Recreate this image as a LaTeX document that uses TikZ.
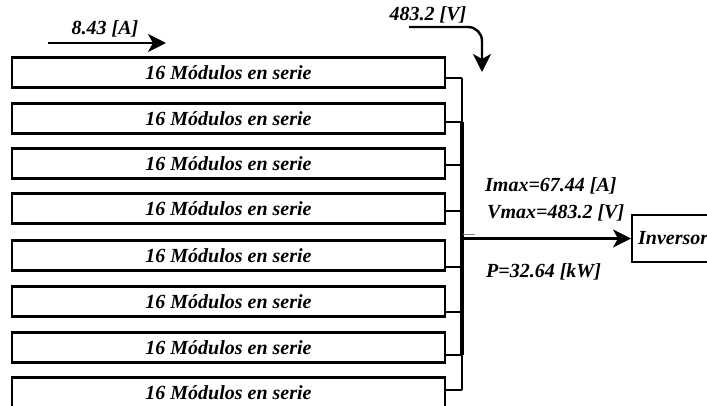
\documentclass[tikz,border=0pt]{standalone}
\usepackage{fontspec}
\setmainfont{Liberation Serif}
\usetikzlibrary{arrows.meta}
\begin{document}
\begin{tikzpicture}[x=1pt,y=-1pt,
  lbl/.style={font=\fontsize{20}{24}\selectfont\bfseries\itshape, inner sep=0pt},
  modbox/.style={draw, line width=2.6pt, minimum width=433pt, minimum height=30pt, inner sep=0pt,
    font=\fontsize{20}{24}\selectfont\bfseries\itshape},
  stub/.style={line width=2pt},
  arr/.style={line width=2.4pt, -{Stealth[length=18pt,width=18pt,inset=5pt]}}]
\useasboundingbox (0,0) rectangle (707,406);
% module boxes
\foreach \i/\y in {1/72.5,2/118.5,3/163.5,4/208.5,5/255.5,6/301.5,7/347.5,8/392.5}{
  \node[modbox] (m\i) at (228.5,\y) {16 Módulos en serie};
}
% bus coordinates
\foreach \i/\y in {1/78,2/122,3/165,4/211,5/267,6/312,7/355,8/390}{
  \coordinate (b\i) at (462,\y);
  \draw[stub] (b\i) -- (b\i -| m\i.east);
}
\draw[line width=2pt] (b1) -- (b8);
\draw[line width=4pt] (b2) -- (b7);
\draw[line width=1pt, gray] (463,234.5) -- (475,234.5);
% inverter
\node[draw, line width=2.4pt, anchor=west, minimum height=47pt, text width=80pt, inner xsep=6pt, inner ysep=0pt, align=left,
  font=\fontsize{20}{24}\selectfont\bfseries\itshape] (inv) at (631,238.5) {Inversor};
\coordinate (o) at (462,238.5);
\draw[arr] (o) -- (inv.west);
% labels
\node[lbl, anchor=base west] (imax) at (485,192) {Imax=67.44 [A]};
\node[lbl, anchor=base west] (vmax) at (487,219) {Vmax=483.2 [V]};
\node[lbl, anchor=base west] (pw) at (486,277) {P=32.64 [kW]};
% current arrow
\coordinate (a1) at (48,43);
\coordinate (a2) at (166,43);
\draw[arr] (a1) -- (a2);
\node[lbl, anchor=base] (ilab) at (105,35) {8.43 [A]};
% voltage arrow
\node[lbl, anchor=base] (vlab) at (428,21) {483.2 [V]};
\coordinate (v1) at (409,27);
\coordinate (v2) at (482,72);
\draw[arr, rounded corners=14pt] (v1) -- (v1 -| v2) -- (v2);
\end{tikzpicture}
\end{document}
